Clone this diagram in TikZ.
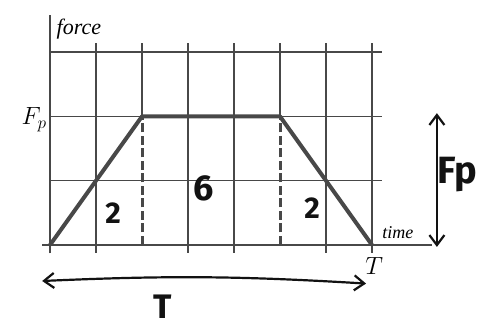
\documentclass[tikz,border=0pt]{standalone}
\usepackage{fontspec}
\setmainfont{Liberation Serif}
\newfontfamily\handfont{Fira Sans}
\usetikzlibrary{arrows.meta, positioning}
\definecolor{gridgray}{RGB}{72, 72, 72}
\definecolor{ink}{RGB}{18, 18, 18}

\begin{document}
\begin{tikzpicture}[x=46pt, y=64.3pt,
  gridln/.style={gridgray, line width=1.6pt},
  profile/.style={gridgray, line width=4pt, line join=round},
  dashln/.style={gridgray, line width=3pt, dash pattern=on 9pt off 3.5pt},
  hand/.style={ink, line width=2.2pt, line cap=round},
  handtxt/.style={ink, inner sep=0pt, font=\handfont\bfseries\fontsize{30}{30}\selectfont},
  lbl/.style={inner sep=1pt, font=\itshape\fontsize{22}{22}\selectfont}]
  \useasboundingbox (-1.087,-1.306) rectangle (9.804,3.810);
  % grid and axes
  \foreach \x in {1,3,4,6,7}
    \draw[gridln] (\x,-0.12) -- (\x,3.14);
  \foreach \x in {2,5}
    \draw[gridln] (\x,2) -- (\x,3.14);
  \foreach \y in {1,2,3}
    \draw[gridln] (0,\y) -- (7.22,\y);
  \draw[gridln, line width=2.4pt] (0,-0.13) -- (0,3.58);
  \draw[gridln, line width=2.4pt] (-0.17,0) -- (8.3,0);
  % force profile
  \coordinate (O) at (0,0);
  \coordinate (P1) at (2,2);
  \coordinate (P2) at (5,2);
  \coordinate (E) at (7,0);
  \coordinate (D1) at (2,0);
  \coordinate (D2) at (5,0);
  \draw[profile] (O) -- (P1) -- (P2) -- (E);
  \draw[dashln] (D1) -- (P1);
  \draw[dashln] (D2) -- (P2);
  % labels
  \node[lbl, anchor=west] (force) at (0.12,3.35) {force};
  \node[lbl, anchor=east, font=\itshape\fontsize{26}{26}\selectfont] (Fp) at (-0.05,1.95) {$F_p$};
  \node[lbl, anchor=west, font=\itshape\fontsize{18}{18}\selectfont] (time) at (7.2,0.2) {time};
  \node[lbl, font=\itshape\fontsize{24}{24}\selectfont] (Tend) at (7.05,-0.33) {$T$};
  \node[handtxt] (r1) at (1.37,0.5) {2};
  \node[handtxt, font=\handfont\bfseries\fontsize{36}{36}\selectfont] (r2) at (3.33,0.88) {6};
  \node[handtxt] (r3) at (5.7,0.57) {2};
  % duration and peak arrows
  \coordinate (tl) at (-0.17,-0.56);
  \coordinate (tr) at (6.87,-0.6);
  \draw[hand, {Straight Barb[length=10pt,width=15pt]}-{Straight Barb[length=10pt,width=15pt]}]
    (tl) to[bend left=3] (tr);
  \node[handtxt, font=\handfont\bfseries\fontsize{34}{34}\selectfont, anchor=north] (Tdur) at (2.46,-0.77) {T};
  \coordinate (fa) at (8.41,-0.03);
  \coordinate (fb) at (8.41,2.05);
  \draw[hand, {Straight Barb[length=10pt,width=15pt]}-{Straight Barb[length=10pt,width=15pt]}]
    (fa) -- (fb);
  \node[handtxt, font=\handfont\bfseries\fontsize{38}{38}\selectfont] (Fpeak) at (8.85,1.1) {Fp};
\end{tikzpicture}
\end{document}
